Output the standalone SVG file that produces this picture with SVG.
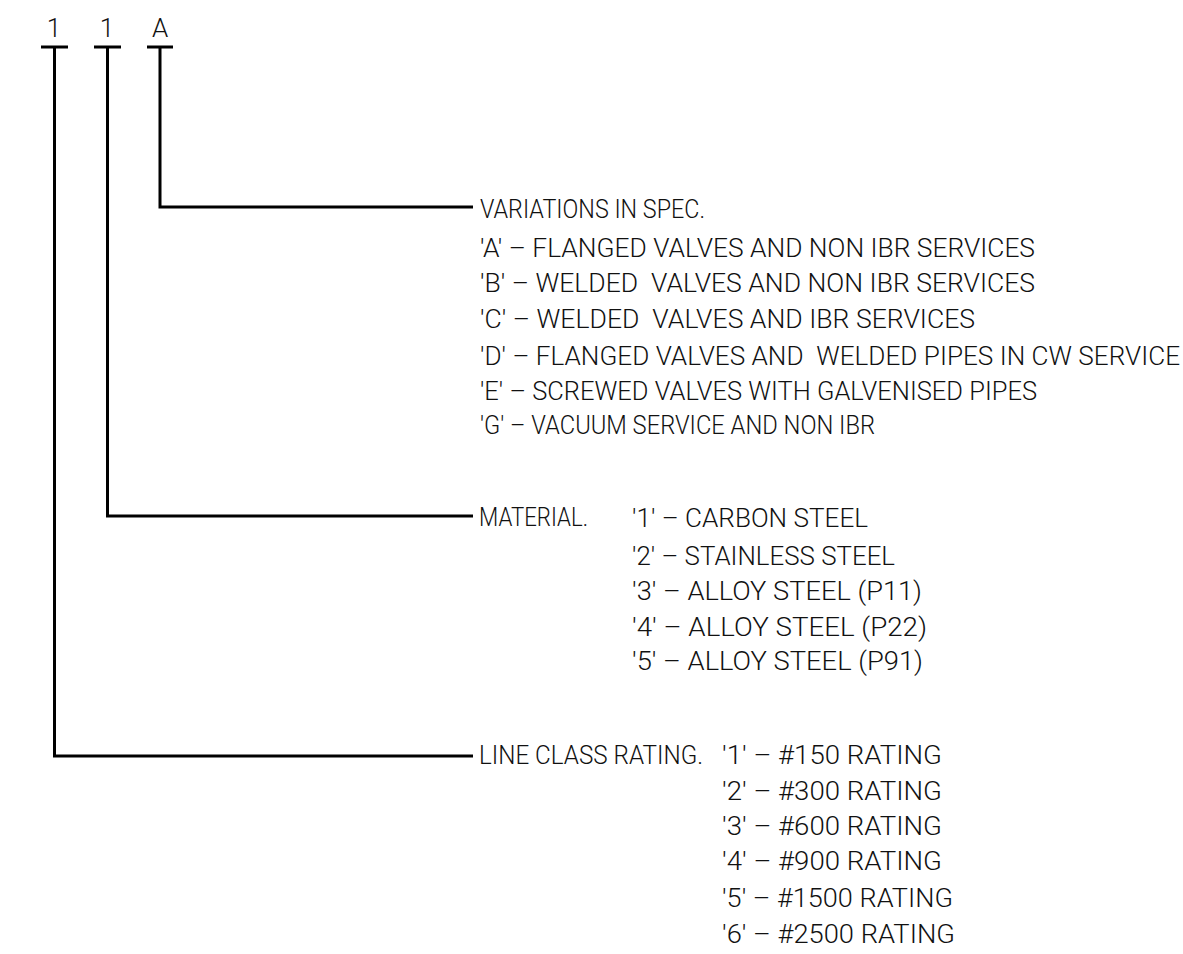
<svg xmlns="http://www.w3.org/2000/svg" width="1183" height="954" viewBox="0 0 1183 954">
<style>
text{font-family:Roboto,"Liberation Sans","DejaVu Sans",sans-serif;font-size:26px;font-weight:300;fill:#111;white-space:pre}
.c{text-anchor:middle}
.w{fill:none;stroke:#000;stroke-width:3}
</style>
<rect width="1183" height="954" fill="#fff"/>
<g id="connectors">
<path class="w" d="M41,47H68M54.5,47V756H473"/>
<path class="w" d="M94,47H121M107.5,47V516H473"/>
<path class="w" d="M147,47H173M160,47V207H473"/>
</g>
<g id="code">
<text class="c" x="54" y="37">1</text>
<text class="c" x="107" y="37">1</text>
<text class="c" x="160" y="37">A</text>
</g>
<g id="variations">
<text x="480" y="218" textLength="225" lengthAdjust="spacingAndGlyphs">VARIATIONS IN SPEC.</text>
<text x="480" y="257" textLength="555" lengthAdjust="spacingAndGlyphs">'A' – FLANGED VALVES AND NON IBR SERVICES</text>
<text x="480" y="292" textLength="555" lengthAdjust="spacingAndGlyphs">'B' – WELDED  VALVES AND NON IBR SERVICES</text>
<text x="480" y="328" textLength="495" lengthAdjust="spacingAndGlyphs">'C' – WELDED  VALVES AND IBR SERVICES</text>
<text x="480" y="365" textLength="700" lengthAdjust="spacingAndGlyphs">'D' – FLANGED VALVES AND  WELDED PIPES IN CW SERVICE</text>
<text x="480" y="400" textLength="557" lengthAdjust="spacingAndGlyphs">'E' – SCREWED VALVES WITH GALVENISED PIPES</text>
<text x="480" y="434" textLength="395" lengthAdjust="spacingAndGlyphs">'G' – VACUUM SERVICE AND NON IBR</text>
</g>
<g id="material">
<text x="479" y="526" textLength="109" lengthAdjust="spacingAndGlyphs">MATERIAL.</text>
<text x="632" y="527" textLength="236" lengthAdjust="spacingAndGlyphs">'1' – CARBON STEEL</text>
<text x="632" y="565" textLength="263" lengthAdjust="spacingAndGlyphs">'2' – STAINLESS STEEL</text>
<text x="632" y="600" textLength="290" lengthAdjust="spacingAndGlyphs">'3' – ALLOY STEEL (P11)</text>
<text x="632" y="636" textLength="295" lengthAdjust="spacingAndGlyphs">'4' – ALLOY STEEL (P22)</text>
<text x="632" y="670" textLength="291" lengthAdjust="spacingAndGlyphs">'5' – ALLOY STEEL (P91)</text>
</g>
<g id="rating">
<text x="479" y="764" textLength="224" lengthAdjust="spacingAndGlyphs">LINE CLASS RATING.</text>
<text x="722" y="764" textLength="220" lengthAdjust="spacingAndGlyphs">'1' – #150 RATING</text>
<text x="722" y="800" textLength="220" lengthAdjust="spacingAndGlyphs">'2' – #300 RATING</text>
<text x="722" y="835" textLength="220" lengthAdjust="spacingAndGlyphs">'3' – #600 RATING</text>
<text x="722" y="870" textLength="220" lengthAdjust="spacingAndGlyphs">'4' – #900 RATING</text>
<text x="722" y="907" textLength="231" lengthAdjust="spacingAndGlyphs">'5' – #1500 RATING</text>
<text x="722" y="943" textLength="233" lengthAdjust="spacingAndGlyphs">'6' – #2500 RATING</text>
</g>
</svg>
